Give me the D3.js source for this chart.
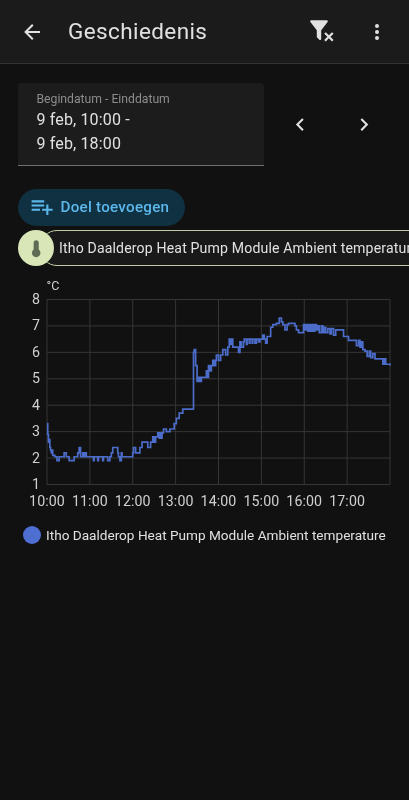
<!DOCTYPE html>
<html><head><meta charset="utf-8">
<script src="https://cdnjs.cloudflare.com/ajax/libs/d3/7.8.5/d3.min.js"></script>
<style>html,body{margin:0;background:#111;overflow:hidden}svg{display:block;filter:blur(0.35px)}text{font-family:Roboto,sans-serif}</style>
</head><body><svg id="c" width="409" height="800"></svg>
<script>
const title="Geschiedenis";
const dateLabel="Begindatum - Einddatum";
const dateLines=["9 feb, 10:00 -","9 feb, 18:00"];
const targetLabel="Doel toevoegen";
const seriesName="Itho Daalderop Heat Pump Module Ambient temperature";
const unit="°C";
const yTicks=[1,2,3,4,5,6,7,8];
const xTickLabels=["10:00","11:00","12:00","13:00","14:00","15:00","16:00","17:00"];
const xTickHours=[0,1,2,3,4,5,6,7];
const minutes=[0,1,2,3,4,5,6,7,8,11,14,16,17,24,27,31,38,43,45,47,50,52,53,55,65,66,71,72,78,79,85,88,90,92,99,100,102,104,105,106,120,121,124,127,130,133,141,142,145,148,150,152,155,157,158,160,161,163,167,172,175,178,181,185,190,197,205,206,208,210,212,214,216,223,224,226,228,230,232,234,236,237,240,243,246,250,253,255,257,258,260,264,268,270,272,275,276,279,280,283,284,287,288,291,293,296,298,300,302,304,306,308,313,316,321,325,328,330,333,336,338,342,347,349,352,359,361,363,365,367,369,371,373,375,377,379,381,384,386,388,390,393,396,398,401,404,406,415,422,433,436,438,440,442,445,448,451,453,456,459,467,470,472,474,476,480];
const temps=[3.3,2.9,2.6,2.7,2.4,2.3,2.2,2.3,2.1,2.05,1.9,1.9,2.05,2.2,2.05,1.9,2.05,2.2,2.4,2.05,2.2,2.05,2.2,2.05,1.9,2.05,1.9,2.05,1.9,2.05,1.9,2.05,2.2,2.4,2.2,2.05,1.9,2.2,2.05,2.05,2.2,2.4,2.2,2.2,2.4,2.6,2.4,2.4,2.6,2.8,2.6,2.8,2.95,2.75,2.95,2.75,2.95,3.1,3.0,3.1,3.1,3.3,3.5,3.7,3.85,3.85,6.0,6.1,5.5,4.9,5.05,4.9,5.05,5.3,5.05,5.5,5.3,5.5,5.7,5.5,5.7,5.9,5.7,5.9,6.1,5.9,6.2,6.5,6.3,6.5,6.2,6.2,6.0,6.4,6.2,6.4,6.5,6.3,6.5,6.35,6.5,6.35,6.5,6.35,6.5,6.4,6.5,6.5,6.65,6.5,6.35,6.6,6.95,7.05,7.1,7.3,7.15,7.05,6.85,7.05,7.1,7.1,7.0,6.85,6.75,7.05,6.85,7.05,6.8,7.05,6.8,7.05,6.8,7.05,6.85,7.0,6.75,7.0,6.75,6.95,6.75,6.9,6.7,6.9,6.65,6.85,6.85,6.6,6.45,6.25,6.45,6.2,6.4,6.1,6.05,5.85,6.05,5.8,5.95,5.75,5.75,5.55,5.75,5.55,5.55,5.5];

const svg=d3.select("#c");
const txt=(x,y,s,size,fill,w)=>svg.append("text").attr("x",x).attr("y",y).attr("font-size",size).attr("fill",fill).attr("font-weight",w||400).text(s);
const icon=(d,x,y,scale,fill)=>svg.append("path").attr("d",d).attr("fill",fill).attr("transform",`translate(${x},${y}) scale(${scale})`);

svg.append("rect").attr("width",409).attr("height",800).attr("fill","#111111");
svg.append("rect").attr("width",409).attr("height",63).attr("fill","#1b1b1b");
svg.append("rect").attr("y",63).attr("width",409).attr("height",1).attr("fill","#333333");
icon("M20,11V13H8L13.5,18.5L12.08,19.92L4.16,12L12.08,4.08L13.5,5.5L8,11H20Z",20,20,1,"#e1e1e1");
txt(68,39,title,22.5,"#e1e1e1").attr("letter-spacing",0.4);
icon("M14.76,20.83L17.6,18L14.76,15.17L16.17,13.76L19,16.57L21.83,13.76L23.24,15.17L20.41,18L23.24,20.83L21.83,22.24L19,19.41L16.17,22.24L14.76,20.83M12,12V19.88C12.04,20.18 11.94,20.5 11.71,20.71C11.32,21.1 10.69,21.1 10.3,20.71L8.29,18.7C8.06,18.47 7.96,18.16 8,17.87V12H7.97L2.21,4.62C1.87,4.19 1.95,3.56 2.38,3.22C2.57,3.08 2.78,3 3,3V3H17V3C17.22,3 17.43,3.08 17.62,3.22C18.05,3.56 18.13,4.19 17.79,4.62L12.03,12H12Z",308,17,1.1,"#e1e1e1");
icon("M12,16A2,2 0 0,1 14,18A2,2 0 0,1 12,20A2,2 0 0,1 10,18A2,2 0 0,1 12,16M12,10A2,2 0 0,1 14,12A2,2 0 0,1 12,14A2,2 0 0,1 10,12A2,2 0 0,1 12,10M12,4A2,2 0 0,1 14,6A2,2 0 0,1 12,8A2,2 0 0,1 10,6A2,2 0 0,1 12,4Z",365,20,1,"#e1e1e1");

svg.append("path").attr("d","M18,87a4,4 0 0 1 4,-4H260a4,4 0 0 1 4,4V165H18Z").attr("fill","#1c1c1c");
svg.append("rect").attr("x",18).attr("y",165).attr("width",246).attr("height",1).attr("fill","#6f6f6f");
txt(36.5,103,dateLabel,12.2,"#8c8c8c");
dateLines.forEach((s,i)=>txt(36.5,125+i*24,s,16,"#e1e1e1").attr("letter-spacing",0.15));
icon("M15.41,16.58L10.83,12L15.41,7.41L14,6L8,12L14,18L15.41,16.58Z",287.5,112,1.05,"#e1e1e1");
icon("M8.59,16.58L13.17,12L8.59,7.41L10,6L16,12L10,18L8.59,16.58Z",351.5,112,1.05,"#e1e1e1");

svg.append("rect").attr("x",18).attr("y",189).attr("width",167).attr("height",37).attr("rx",18.5).attr("fill","#0f3142");
icon("M2,16H10V14H2M18,14V10H16V14H12V16H16V20H18V16H22V14M14,6H2V8H14M14,10H2V12H14V10Z",29.5,194,1.05,"#5cb8ec");
txt(60.5,212,targetLabel,15.2,"#5cb8ec",500).attr("letter-spacing",0.25);

svg.append("rect").attr("x",40).attr("y",230.5).attr("width",420).attr("height",35).attr("rx",17).attr("fill","#191919").attr("stroke","#c3cba6").attr("stroke-width",1);
svg.append("circle").attr("cx",36).attr("cy",248).attr("r",18).attr("fill","#d9e6b8");
icon("M15,13V5A3,3 0 0,0 9,5V13A5,5 0 1,0 15,13Z",26,238.5,0.85,"#5f6b55");
txt(59,253,seriesName,14.1,"#e1e1e1").attr("letter-spacing",0.15);

const x=d3.scaleLinear().domain([0,480]).range([47,390]);
const y=d3.scaleLinear().domain([1,8]).range([484.5,299.5]);
const g=svg.append("g");
const grid="#363636";
g.selectAll(".h").data(yTicks).join("line").attr("x1",x(0)).attr("x2",x(480)).attr("y1",d=>y(d)).attr("y2",d=>y(d)).attr("stroke",grid).attr("stroke-width",1);
g.selectAll(".v").data([...xTickHours,8]).join("line").attr("x1",d=>x(d*60)).attr("x2",d=>x(d*60)).attr("y1",y(8)).attr("y2",y(1)).attr("stroke",grid).attr("stroke-width",1);
g.selectAll(".yl").data(yTicks).join("text").attr("x",40).attr("y",d=>y(d)+4.5).attr("text-anchor","end").attr("font-size",14.2).attr("fill","#d0d0d0").text(d=>d);
g.selectAll(".xl").data(xTickHours).join("text").attr("x",d=>x(d*60)).attr("y",505.5).attr("text-anchor","middle").attr("font-size",14.2).attr("fill","#d0d0d0").attr("letter-spacing",0.1).text((d,i)=>xTickLabels[i]);
txt(46.5,290,unit,12.5,"#d0d0d0");
const line=d3.line().x(d=>x(d[0])).y(d=>y(d[1])).curve(d3.curveStepAfter);
g.append("path").datum(minutes.map((m,i)=>[m,temps[i]])).attr("d",line).attr("fill","none").attr("stroke","#4b6cc8").attr("stroke-width",1.7);

svg.append("circle").attr("cx",32).attr("cy",535).attr("r",9).attr("fill","#4f6ed2");
txt(46,539.5,seriesName,13.6,"#e1e1e1");
</script></body></html>
